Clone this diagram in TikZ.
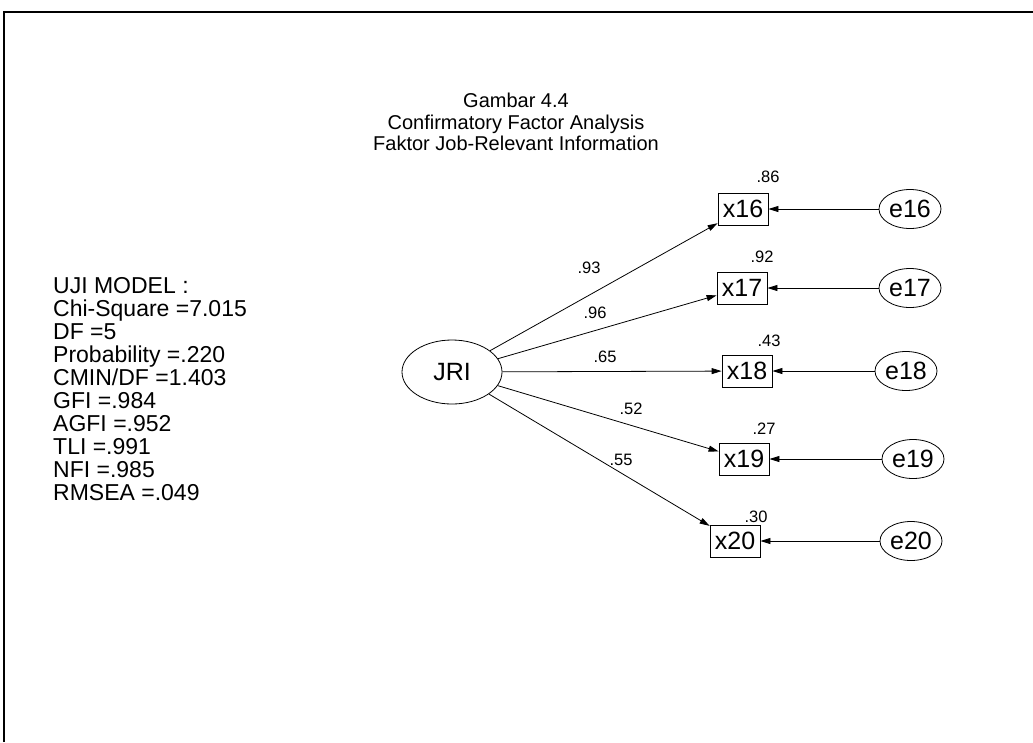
\documentclass[tikz,border=0pt]{standalone}
\usepackage{fontspec}
\setmainfont{Liberation Sans}
\usetikzlibrary{arrows.meta,shapes.geometric}
\begin{document}
\begin{tikzpicture}[x=1pt,y=-1pt,
  obs/.style={draw,line width=0.8pt,minimum width=50pt,minimum height=32pt,inner sep=0pt,
    font=\fontsize{25}{25}\selectfont},
  err/.style={draw,ellipse,line width=0.8pt,minimum width=62pt,minimum height=39pt,inner sep=0pt,
    font=\fontsize{25}{25}\selectfont},
  lat/.style={draw,ellipse,line width=0.8pt,minimum width=100pt,minimum height=64pt,inner sep=0pt,
    font=\fontsize{25}{25}\selectfont},
  load/.style={line width=0.8pt,-{Triangle[length=10pt,width=6pt]}},
  coef/.style={font=\fontsize{16.5}{16.5}\selectfont,inner sep=0pt},
]
\useasboundingbox (0,0) rectangle (1033,742);
% page frame
\draw[line width=2pt] (4,742) -- (4,12) -- (1033,12);

% heading
\node[anchor=north,align=center,inner sep=0pt,font=\fontsize{20}{21.5}\selectfont] (title) at (516,93)
  {Gambar 4.4\\Confirmatory Factor Analysis\\Faktor Job-Relevant Information};

% fit statistics
\node[anchor=north west,align=left,inner sep=0pt,font=\fontsize{23}{23}\selectfont] (fit) at (53,277)
  {UJI MODEL :\\Chi-Square =7.015\\DF =5\\Probability =.220\\CMIN/DF =1.403\\GFI =.984\\AGFI =.952\\TLI =.991\\NFI =.985\\RMSEA =.049};

% latent factor
\node[lat] (jri) at (452,372) {JRI};

% indicators
\node[obs] (x16) at (743,209) {x16};
\node[obs] (x17) at (742,288) {x17};
\node[obs] (x18) at (747,371) {x18};
\node[obs] (x19) at (744,459) {x19};
\node[obs] (x20) at (735,541) {x20};

% error terms
\node[err] (e16) at (910,209) {e16};
\node[err] (e17) at (910,288) {e17};
\node[err] (e18) at (906,371) {e18};
\node[err] (e19) at (913,459) {e19};
\node[err] (e20) at (911,541) {e20};

% loadings
\draw[load] (jri) -- (x16);
\draw[load] (jri) -- (x17);
\draw[load] (jri) -- (x18);
\draw[load] (jri) -- (x19);
\draw[load] (jri) -- (x20);

\draw[load] (e16) -- (x16);
\draw[load] (e17) -- (x17);
\draw[load] (e18) -- (x18);
\draw[load] (e19) -- (x19);
\draw[load] (e20) -- (x20);

% standardized loadings
\node[coef] (l16) at (589,268) {.93};
\node[coef] (l17) at (595,313) {.96};
\node[coef] (l18) at (605,357) {.65};
\node[coef] (l19) at (631,409) {.52};
\node[coef] (l20) at (621,460) {.55};

% squared multiple correlations
\node[coef] (r16) at (768,177) {.86};
\node[coef] (r17) at (762,257) {.92};
\node[coef] (r18) at (769,341) {.43};
\node[coef] (r19) at (764,429) {.27};
\node[coef] (r20) at (756,517) {.30};
\end{tikzpicture}
\end{document}
